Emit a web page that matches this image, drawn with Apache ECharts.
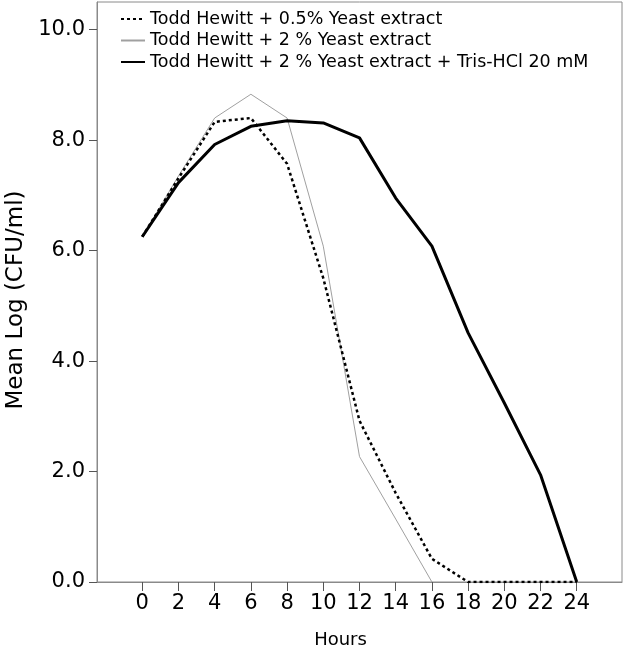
<!DOCTYPE html>
<html><head><meta charset="utf-8">
<script src="https://cdn.jsdelivr.net/npm/echarts@6/dist/echarts.min.js"></script>
<style>html,body{margin:0;padding:0;background:#fff}#c{width:625px;height:649px}</style>
</head><body><div id="c"></div>
<script>
const hours = [0, 2, 4, 6, 8, 10, 12, 14, 16, 18, 20, 22, 24];
const xTicks = [0, 2, 4, 6, 8, 10, 12, 14, 16, 18, 20, 22, 24];
const yTicks = [0, 2, 4, 6, 8, 10];
const seriesNames = [
  'Todd Hewitt + 0.5% Yeast extract',
  'Todd Hewitt + 2 % Yeast extract',
  'Todd Hewitt + 2 % Yeast extract + Tris-HCl 20 mM'
];
const yeast05 = [6.25, 7.31, 8.33, 8.40, 7.57, 5.50, 2.92, 1.61, 0.42, 0, 0, 0, 0];
const yeast2 = [6.25, 7.35, 8.40, 8.83, 8.40, 6.08, 2.27, 1.14, 0, null, null, null, null];
const yeast2Tris = [6.25, 7.23, 7.92, 8.25, 8.35, 8.31, 8.04, 6.95, 6.08, 4.51, 3.24, 1.94, 0];

const font = 'DejaVu Sans';
const pair = (arr) => hours.map((h, i) => [h, arr[i]]).filter(p => p[1] !== null);

const chart = echarts.init(document.getElementById('c'), null, {renderer: 'canvas'});
chart.setOption({
  animation: false,
  backgroundColor: '#fff',
  grid: {left: 97, right: 3, top: 2, bottom: 67, show: true, borderColor: '#8a8a8a', borderWidth: 1,
    containLabel: false, outerBoundsMode: 'none'},
  legend: {
    orient: 'vertical', left: 115, top: 5, itemGap: 3.5, itemWidth: 24, itemHeight: 14,
    itemStyle: {opacity: 0},
    textStyle: {fontFamily: font, fontSize: 17.5, color: '#000'},
    data: seriesNames
  },
  xAxis: {
    type: 'value', min: -2.5, max: 26.5,
    name: 'Hours', nameLocation: 'middle', nameGap: 49,
    nameTextStyle: {fontFamily: font, fontSize: 18, color: '#000', padding: [0, 38, 0, 0]},
    axisLine: {show: true, onZero: false, lineStyle: {color: '#8a8a8a', width: 1}},
    axisTick: {show: true, length: 9, customValues: xTicks, lineStyle: {color: '#555'}},
    axisLabel: {customValues: xTicks, fontFamily: font, fontSize: 21, color: '#000', margin: 11},
    splitLine: {show: false}
  },
  yAxis: {
    type: 'value', min: 0, max: 10.5,
    name: 'Mean Log (CFU/ml)', nameLocation: 'middle', nameGap: 68,
    nameTextStyle: {fontFamily: font, fontSize: 23, color: '#000', padding: [0, 16, 0, 0]},
    axisLine: {show: true, onZero: false, lineStyle: {color: '#8a8a8a', width: 1}},
    axisTick: {show: true, length: 8, customValues: yTicks, lineStyle: {color: '#555'}},
    axisLabel: {customValues: yTicks, fontFamily: font, fontSize: 21, color: '#000', margin: 12,
      formatter: v => v.toFixed(1)},
    splitLine: {show: false}
  },
  series: [
    {name: seriesNames[0], type: 'line', data: pair(yeast05), symbol: 'none',
      lineStyle: {color: '#000', width: 2.5, type: [3, 3]}, itemStyle: {color: '#000'}, z: 3},
    {name: seriesNames[1], type: 'line', data: pair(yeast2), symbol: 'none',
      lineStyle: {color: '#a0a0a0', width: 1}, itemStyle: {color: '#a0a0a0'}, z: 2},
    {name: seriesNames[2], type: 'line', data: pair(yeast2Tris), symbol: 'none',
      lineStyle: {color: '#000', width: 3}, itemStyle: {color: '#000'}, z: 4}
  ]
});
</script></body></html>
